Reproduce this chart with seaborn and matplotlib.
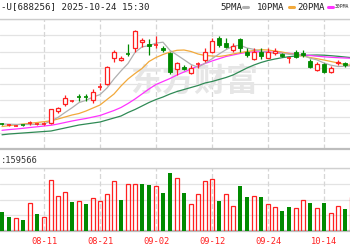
import numpy as np
import pandas as pd
import matplotlib
matplotlib.use("Agg")
import matplotlib.pyplot as plt
from matplotlib.lines import Line2D
import seaborn as sns

# ---------------- data ----------------
dates = ["08-01", "08-04", "08-05", "08-06", "08-07", "08-08", "08-11", "08-12", "08-13", "08-14",
         "08-15", "08-18", "08-19", "08-20", "08-21", "08-22", "08-25", "08-26", "08-27", "08-28",
         "08-29", "09-01", "09-02", "09-03", "09-04", "09-05", "09-08", "09-09", "09-10", "09-11",
         "09-12", "09-15", "09-16", "09-17", "09-18", "09-19", "09-22", "09-23", "09-24", "09-25",
         "09-26", "09-29", "09-30", "10-09", "10-10", "10-13", "10-14", "10-15", "10-16", "10-17",
         "10-20"]
opens = [653, 635, 632, 640, 652, 645, 650, 660, 785, 847,
         875, 925, 920, 890, 1018, 1047, 1310, 1290, 1357, 1407,
         1473, 1447, 1435, 1407, 1363, 1200, 1223, 1157, 1245, 1290,
         1373, 1513, 1457, 1390, 1500, 1373, 1300, 1367, 1313, 1357,
         1347, 1310, 1373, 1357, 1280, 1190, 1247, 1173, 1257, 1257,
         1240]
highs = [665, 650, 640, 645, 680, 660, 668, 805, 823, 940,
         895, 950, 950, 1000, 1060, 1230, 1393, 1330, 1447, 1595,
         1513, 1500, 1533, 1433, 1373, 1273, 1240, 1240, 1273, 1407,
         1513, 1533, 1507, 1457, 1507, 1407, 1407, 1407, 1407, 1407,
         1357, 1323, 1390, 1390, 1300, 1267, 1257, 1230, 1290, 1273,
         1280]
lows = [640, 630, 628, 630, 640, 640, 645, 655, 763, 830,
        868, 880, 885, 860, 990, 1040, 1270, 1280, 1330, 1370,
        1420, 1340, 1407, 1367, 1153, 1140, 1190, 1147, 1207, 1273,
        1357, 1420, 1407, 1367, 1373, 1323, 1290, 1300, 1307, 1340,
        1323, 1257, 1307, 1323, 1213, 1180, 1157, 1157, 1240, 1223,
        1230]
closes = [647, 645, 637, 636, 660, 652, 658, 800, 810, 907,
          885, 920, 915, 973, 1027, 1217, 1373, 1313, 1347, 1580,
          1490, 1433, 1445, 1390, 1173, 1257, 1200, 1207, 1255, 1367,
          1480, 1440, 1423, 1433, 1413, 1340, 1373, 1333, 1367, 1380,
          1333, 1320, 1323, 1340, 1223, 1247, 1167, 1213, 1273, 1240,
          1267]
volumes = [96500, 71500, 63500, 55000, 138500, 85000, 71500, 255000, 175000, 196500,
           145000, 148500, 135000, 166500, 148500, 185000, 248500, 153500, 235000, 235000,
           235000, 231500, 226500, 188500, 290000, 263500, 188500, 135000, 183500, 250000,
           258500, 150000, 183500, 126500, 226500, 168500, 176500, 168500, 133500, 118500,
           100000, 118500, 113500, 153500, 141500, 113500, 141500, 90000, 126500, 108500,
           168500]
vol_up = [0, 0, 1, 0, 1, 0, 1, 1, 1, 1,
          0, 1, 0, 1, 1, 1, 1, 0, 1, 1,
          0, 0, 1, 0, 0, 1, 0, 1, 1, 1,
          1, 0, 1, 1, 0, 0, 1, 0, 1, 1,
          0, 0, 1, 1, 0, 1, 0, 1, 1, 0,
          1]
ma5 = [650, 648, 646, 645, 645, 646, 649, 681, 716, 765,
       812, 864, 887, 920, 944, 1010, 1101, 1181, 1255, 1366,
       1421, 1433, 1459, 1468, 1386, 1340, 1293, 1245, 1218, 1257,
       1302, 1350, 1393, 1429, 1438, 1410, 1396, 1378, 1365, 1359,
       1357, 1347, 1345, 1339, 1308, 1291, 1260, 1238, 1225, 1228,
       1232]
ma10 = [625, 633, 642, 650, 657, 665, 673, 682, 700, 720,
        740, 755, 780, 810, 840, 895, 950, 1030, 1100, 1155,
        1205, 1275, 1315, 1345, 1370, 1387, 1390, 1375, 1350, 1335,
        1330, 1325, 1335, 1350, 1363, 1375, 1385, 1393, 1390, 1380,
        1370, 1355, 1342, 1330, 1315, 1303, 1290, 1275, 1260, 1245,
        1235]
ma20 = [587, 594, 600, 607, 615, 622, 630, 637, 650, 665,
        680, 693, 705, 720, 735, 760, 785, 815, 855, 900,
        950, 1000, 1045, 1075, 1105, 1140, 1170, 1200, 1230, 1255,
        1280, 1303, 1325, 1340, 1355, 1367, 1372, 1372, 1370, 1367,
        1363, 1357, 1350, 1342, 1335, 1328, 1322, 1317, 1313, 1310,
        1307]
ma30 = [542, 550, 555, 560, 565, 570, 575, 580, 595, 610,
        625, 640, 650, 660, 670, 690, 710, 730, 765, 795,
        830, 865, 895, 920, 950, 975, 995, 1015, 1035, 1060,
        1075, 1095, 1115, 1140, 1175, 1210, 1240, 1265, 1285, 1300,
        1313, 1323, 1330, 1335, 1338, 1340, 1338, 1333, 1327, 1320,
        1313]
tick_labels = ["08-11", "08-21", "09-02", "09-12", "09-24", "10-14"]
legend_labels = ["5PMA", "10PMA", "20PMA", "30PMA"]
title_text = "-U[688256] 2025-10-24 15:30"
vol_text = ":159566"
watermark = "东方财富"

# ---------------- style ----------------
sns.set_style("white")
plt.rcParams["font.family"] = ["DejaVu Sans Mono", "Noto Sans CJK SC"]

RED = "#ff2020"
GREEN = "#008a00"
MA_COLORS = ["#b0b0b0", "#f2a93b", "#ff33ff", "#2f8a55"]
GRID = "#e3e3e3"
VGRID = "#d6d6d6"

W, H = 350, 250
fig = plt.figure(figsize=(W / 100, H / 100), dpi=100)


def axes_px(top, bottom):
    return fig.add_axes([0, (H - bottom) / H, 1, (bottom - top) / H])


ax = axes_px(19, 149)
axv = axes_px(168, 231)

n = len(dates)
idx = np.arange(n)
xlim = (-2 / 7, 348 / 7)
tick_pos = [dates.index(t) for t in tick_labels]

# ---------------- price panel ----------------
ax.set_xlim(*xlim)
ax.set_ylim(400, 1700)
ax.set_yticks(np.linspace(400, 1700, 9))
ax.set_xticks([])
ax.yaxis.grid(True, color=GRID, lw=0.9)
ax.tick_params(left=False, labelleft=False, bottom=False, labelbottom=False)
for s in ["left", "right"]:
    ax.spines[s].set_visible(False)
ax.spines["top"].set_color("#cccccc")
ax.spines["top"].set_linewidth(1.0)
ax.spines["bottom"].set_color("#bdbdbd")
ax.spines["bottom"].set_linewidth(1.6)
ax.vlines(tick_pos, 400, 1700, colors=VGRID, linestyles=(0, (4, 2)), lw=0.9, zorder=0.8)

ax.text(194 / W, 1 - 83 / H, watermark, transform=fig.transFigure, ha="center", va="center",
        fontsize=23, fontweight="bold", color="#e6e6e6", family=["Noto Sans CJK SC"], zorder=0.9)

ma_df = pd.DataFrame({"idx": idx, "MA5": ma5, "MA10": ma10, "MA20": ma20, "MA30": ma30})
for col, c in zip(["MA30", "MA20", "MA10", "MA5"], MA_COLORS[::-1]):
    sns.lineplot(data=ma_df, x="idx", y=col, color=c, lw=0.9, ax=ax, zorder=2)
ax.set_xlabel("")
ax.set_ylabel("")

bw = 0.64
for i in range(n):
    o, h, l, c = opens[i], highs[i], lows[i], closes[i]
    up = c >= o
    col = RED if up else GREEN
    top, bot = max(o, c), min(o, c)
    if top - bot < 14:
        ax.vlines(i, l, h, color=col, lw=0.9, zorder=3)
        ax.hlines((o + c) / 2, i - bw / 2, i + bw / 2, color=col, lw=1.2, zorder=3)
        continue
    if up:
        ax.vlines(i, top, h, color=col, lw=0.9, zorder=3)
        ax.vlines(i, l, bot, color=col, lw=0.9, zorder=3)
        ax.bar(i, top - bot, bw, bot, facecolor="white", edgecolor=col, lw=0.9, zorder=3)
    else:
        ax.vlines(i, l, h, color=col, lw=0.9, zorder=3)
        ax.bar(i, top - bot, bw, bot, facecolor=col, edgecolor=col, lw=0.6, zorder=3)

# ---------------- volume panel ----------------
vdf = pd.DataFrame({"idx": idx, "vol": volumes, "up": vol_up})
sns.barplot(data=vdf[vdf.up == 1], x="idx", y="vol", native_scale=True, fill=False,
            color=RED, width=bw, errorbar=None, linewidth=0.9, ax=axv, zorder=3)
sns.barplot(data=vdf[vdf.up == 0], x="idx", y="vol", native_scale=True, fill=True,
            color=GREEN, saturation=1, width=bw, errorbar=None, linewidth=0, ax=axv, zorder=3)
axv.set_xlim(*xlim)
axv.set_ylim(0, 315000)
axv.set_yticks(np.linspace(0, 315000, 5))
axv.yaxis.grid(True, color=GRID, lw=0.9)
axv.xaxis.grid(False)
axv.set_xlabel("")
axv.set_ylabel("")
axv.set_xticks(tick_pos)
axv.set_xticklabels(tick_labels)
axv.tick_params(left=False, labelleft=False, bottom=False, length=0, pad=4,
                labelsize=6.3, labelcolor=RED)
for s in ["left", "right"]:
    axv.spines[s].set_visible(False)
axv.spines["top"].set_color("#d0d0d0")
axv.spines["top"].set_linewidth(1.0)
axv.spines["bottom"].set_color("#bdbdbd")
axv.spines["bottom"].set_linewidth(1.6)
axv.vlines(tick_pos, 0, 315000, colors=VGRID, linestyles=(0, (4, 2)), lw=0.9, zorder=0.8)

# ---------------- texts ----------------
fig.text(1 / W, 1 - 7 / H, title_text, ha="left", va="center", fontsize=6.6, color="#222222")
fig.text(1 / W, 1 - 160.5 / H, vol_text, ha="left", va="center", fontsize=6.3, color="#333333")

leg_x = [220, 257, 297, 334.5]
mark_x = [243, 289, 328, None]
leg_size = [6.6, 6.6, 6.6, 3.4]
for lab, lx, mx, c, fs in zip(legend_labels, leg_x, mark_x, MA_COLORS, leg_size):
    fig.text(lx / W, 1 - 7 / H, lab, ha="left", va="center", fontsize=fs, color="#222222")
    if mx is not None:
        fig.add_artist(Line2D([mx / W, (mx + 5) / W], [1 - 7 / H, 1 - 7 / H], color=c, lw=2.2,
                              transform=fig.transFigure))

fig.savefig("out.png", dpi=100)
